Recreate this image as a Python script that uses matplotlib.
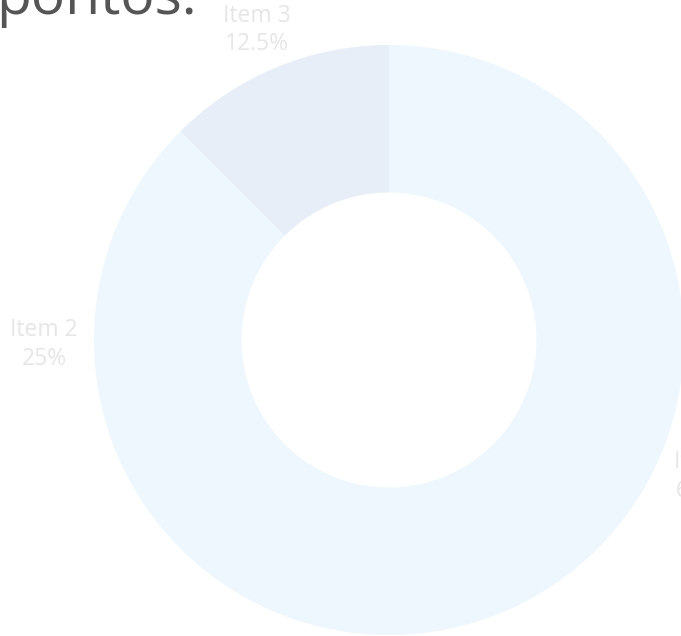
import numpy as np
import matplotlib
matplotlib.use("Agg")
import matplotlib.pyplot as plt

# dados do gráfico
items = ["Item 1", "Item 2", "Item 3"]
valores = [62.5, 25, 12.5]
cores = ["#eef7fe", "#eef7fe", "#e7eef7"]
titulo = "pontos:"

W, H = 681, 636
fig = plt.figure(figsize=(W / 100, H / 100), dpi=100)
ax = fig.add_axes([0, 0, 1, 1])

cx, cy = 389, H - 340
raio = 295

wedges, _ = ax.pie(valores, colors=cores, startangle=90, counterclock=False,
                   center=(cx, cy), radius=raio, frame=True,
                   wedgeprops=dict(width=raio * 0.5, linewidth=0))
ax.set_xlim(0, W)
ax.set_ylim(0, H)
ax.axis("off")

# rótulos centrados fora do anel (mantidos dentro da área do gráfico)
dist = 345
for w, nome, v in zip(wedges, items, valores):
    ang = np.deg2rad((w.theta1 + w.theta2) / 2)
    x = cx + dist * np.cos(ang)
    y = cy + dist * np.sin(ang) - 4.5
    y = min(y, H - 30)
    ax.text(x, y, f"{nome}\n{v:g}%", ha="center", va="center",
            fontsize=16.5, color="#e6e6e6", family="Open Sans",
            linespacing=1.24, clip_on=False)

fig.text(-4 / W, 1 - 14 / H, titulo, ha="left", va="baseline",
         fontsize=41, color="#555555", family="Open Sans")

fig.savefig("out.png", dpi=100)
